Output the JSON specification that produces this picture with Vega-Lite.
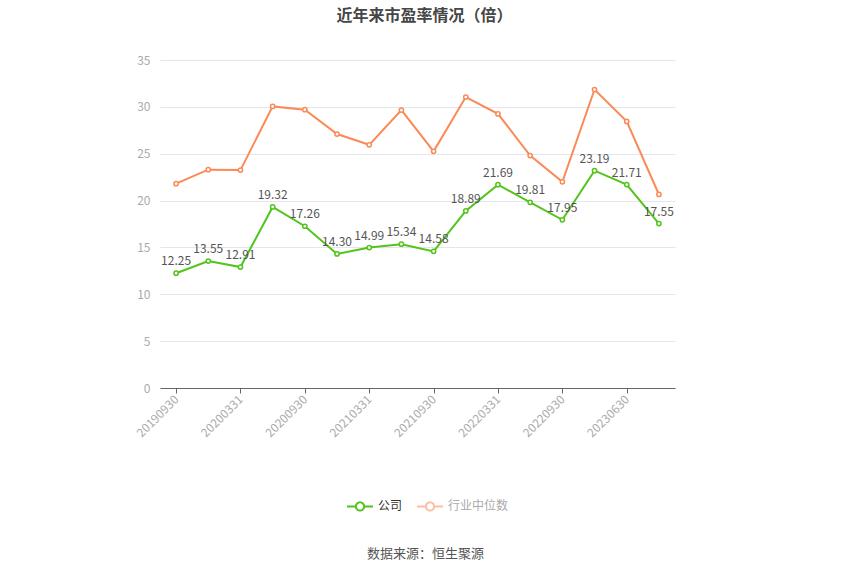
{
  "$schema": "https://vega.github.io/schema/vega-lite/v6.json",
  "width": 515,
  "height": 328,
  "autosize": {"type": "none"},
  "padding": {"left": 160, "top": 60, "right": 175, "bottom": 187},
  "background": "#ffffff",
  "title": {
    "text": "近年来市盈率情况（倍）",
    "fontSize": 16,
    "fontWeight": "bold",
    "color": "#464646",
    "font": "Noto Sans CJK SC",
    "anchor": "middle",
    "dx": 7,
    "offset": 30
  },
  "config": {
    "view": {"stroke": null},
    "font": "Noto Sans CJK SC"
  },
  "data": {
    "values": [
      {"date": "20190930", "series": "公司", "pe": 12.25},
      {"date": "20191231", "series": "公司", "pe": 13.55},
      {"date": "20200331", "series": "公司", "pe": 12.91},
      {"date": "20200630", "series": "公司", "pe": 19.32},
      {"date": "20200930", "series": "公司", "pe": 17.26},
      {"date": "20201231", "series": "公司", "pe": 14.30},
      {"date": "20210331", "series": "公司", "pe": 14.99},
      {"date": "20210630", "series": "公司", "pe": 15.34},
      {"date": "20210930", "series": "公司", "pe": 14.58},
      {"date": "20211231", "series": "公司", "pe": 18.89},
      {"date": "20220331", "series": "公司", "pe": 21.69},
      {"date": "20220630", "series": "公司", "pe": 19.81},
      {"date": "20220930", "series": "公司", "pe": 17.95},
      {"date": "20230331", "series": "公司", "pe": 23.19},
      {"date": "20230630", "series": "公司", "pe": 21.71},
      {"date": "20230930", "series": "公司", "pe": 17.55},
      {"date": "20190930", "series": "行业中位数", "pe": 21.8},
      {"date": "20191231", "series": "行业中位数", "pe": 23.3},
      {"date": "20200331", "series": "行业中位数", "pe": 23.25},
      {"date": "20200630", "series": "行业中位数", "pe": 30.05},
      {"date": "20200930", "series": "行业中位数", "pe": 29.7},
      {"date": "20201231", "series": "行业中位数", "pe": 27.1},
      {"date": "20210331", "series": "行业中位数", "pe": 25.95},
      {"date": "20210630", "series": "行业中位数", "pe": 29.65},
      {"date": "20210930", "series": "行业中位数", "pe": 25.25},
      {"date": "20211231", "series": "行业中位数", "pe": 31.05},
      {"date": "20220331", "series": "行业中位数", "pe": 29.25},
      {"date": "20220630", "series": "行业中位数", "pe": 24.8},
      {"date": "20220930", "series": "行业中位数", "pe": 22.0},
      {"date": "20230331", "series": "行业中位数", "pe": 31.85},
      {"date": "20230630", "series": "行业中位数", "pe": 28.45},
      {"date": "20230930", "series": "行业中位数", "pe": 20.65}
    ]
  },
  "encoding": {
    "x": {
      "field": "date",
      "type": "ordinal",
      "sort": null,
      "scale": {"type": "point", "padding": 0.5},
      "axis": {
        "values": ["20190930", "20200331", "20200930", "20210331", "20210930", "20220331", "20220930", "20230630"],
        "labelAngle": -45,
        "labelAlign": "right",
        "labelBaseline": "middle",
        "labelColor": "#aaaaaa",
        "labelFontSize": 12,
        "labelPadding": 4,
        "domainColor": "#666666",
        "tickColor": "#666666",
        "tickSize": 5,
        "grid": false,
        "title": "数据来源：恒生聚源",
        "titleFontSize": 13,
        "titleFontWeight": "normal",
        "titleColor": "#555555",
        "titleY": 159,
        "titleX": 265,
        "titleAnchor": "middle"
      }
    },
    "y": {
      "field": "pe",
      "type": "quantitative",
      "scale": {"domain": [0, 35]},
      "axis": {
        "values": [0, 5, 10, 15, 20, 25, 30, 35],
        "title": null,
        "domain": false,
        "ticks": false,
        "labelColor": "#aaaaaa",
        "labelFontSize": 12,
        "labelPadding": 10,
        "gridColor": "#e3e6ef"
      }
    },
    "color": {
      "field": "series",
      "type": "nominal",
      "scale": {"domain": ["公司", "行业中位数"], "range": ["#52c41a", "#fa8a57"]},
      "legend": {
        "title": null,
        "orient": "none",
        "direction": "horizontal",
        "legendX": 186,
        "legendY": 432,
        "symbolType": "M-1,0L-0.32,0M0.32,0L1,0M-0.32,0A0.32,0.32,0,1,1,0.32,0A0.32,0.32,0,1,1,-0.32,0",
        "symbolSize": 676,
        "symbolStrokeWidth": 2,
        "symbolFillColor": "#ffffff",
        "labelFontSize": 12,
        "labelColor": "#333333",
        "columnPadding": 10,
        "labelOffset": 4,
        "encode": {
          "symbols": {"update": {"fill": {"value": "#ffffff"}, "opacity": {"signal": "datum.value == '公司' ? 1 : 0.55"}}},
          "labels": {"update": {"fill": {"signal": "datum.value == '公司' ? '#333333' : '#aaaaaa'"}}}
        }
      }
    }
  },
  "layer": [
    {
      "mark": {"type": "line", "strokeWidth": 2, "point": {"filled": false, "fill": "#ffffff", "size": 18, "strokeWidth": 1.5}}
    },
    {
      "transform": [{"filter": "datum.series == '公司'"}],
      "mark": {"type": "text", "dy": -12, "fontSize": 12, "color": "#555555"},
      "encoding": {
        "text": {"field": "pe", "type": "quantitative", "format": ".2f"},
        "color": {"value": "#555555"}
      }
    }
  ]
}
